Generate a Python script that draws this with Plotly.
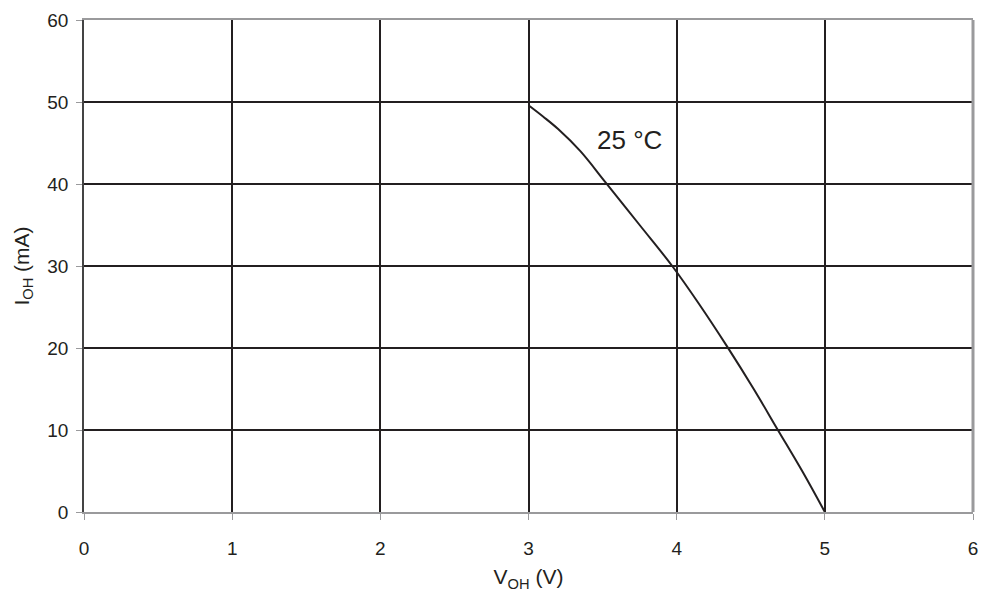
import plotly.graph_objects as go

# Data
v_oh = [3.0, 3.1, 3.2, 3.35, 3.52, 3.75, 3.97, 4.15, 4.34, 4.52, 4.68, 4.85, 5.0]
i_oh = [49.6, 48.2, 46.7, 44.0, 40.2, 35.0, 30.0, 25.4, 20.2, 15.0, 10.1, 4.9, 0.0]
x_ticks = [0, 1, 2, 3, 4, 5, 6]
y_ticks = [0, 10, 20, 30, 40, 50, 60]
label_text = "25 °C"
label_pos = (3.68, 45.4)

TXT = "#231f20"
GRAY = "#9a9a9c"
FONT = "Liberation Sans, Arial, sans-serif"

fig = go.Figure()
fig.add_trace(go.Scatter(x=v_oh, y=i_oh, mode="lines",
                         line=dict(color=TXT, width=2, shape="spline", smoothing=1.0),
                         showlegend=False, hoverinfo="skip"))

fig.add_annotation(x=label_pos[0], y=label_pos[1], text=label_text, showarrow=False,
                   font=dict(size=26, color=TXT, family=FONT))

fig.add_shape(type="line", xref="paper", yref="paper", x0=1, x1=1, y0=0, y1=1,
              line=dict(color=GRAY, width=3))

fig.update_xaxes(range=[0, 6], tickvals=x_ticks, showgrid=True, gridcolor=TXT, gridwidth=2,
                 showline=True, linecolor=GRAY, linewidth=2, mirror=True,
                 ticks="outside", ticklen=6, tickcolor=GRAY, tickwidth=1,
                 ticklabelstandoff=12, automargin=False,
                 zeroline=False, tickfont=dict(size=19, color=TXT, family=FONT),
                 title=dict(text="V<sub>OH</sub> (V)", font=dict(size=21, color=TXT, family=FONT), standoff=12))
fig.update_yaxes(range=[0, 60], tickvals=y_ticks, showgrid=True, gridcolor=TXT, gridwidth=2,
                 showline=True, linecolor="#444444", linewidth=1.5, mirror=False,
                 ticks="outside", ticklen=6, tickcolor=GRAY, tickwidth=1,
                 ticklabelstandoff=4, automargin=False,
                 zeroline=False, tickfont=dict(size=19, color=TXT, family=FONT),
                 title=dict(text="I<sub>OH</sub> (mA)", font=dict(size=21, color=TXT, family=FONT), standoff=12))

fig.update_layout(width=981, height=594, paper_bgcolor="white", plot_bgcolor="white",
                  margin=dict(l=84, r=8, t=20, b=82))

fig.write_html("out.html", config={"displayModeBar": False},
               post_script="document.body.style.margin='0';document.body.style.overflow='hidden';")
